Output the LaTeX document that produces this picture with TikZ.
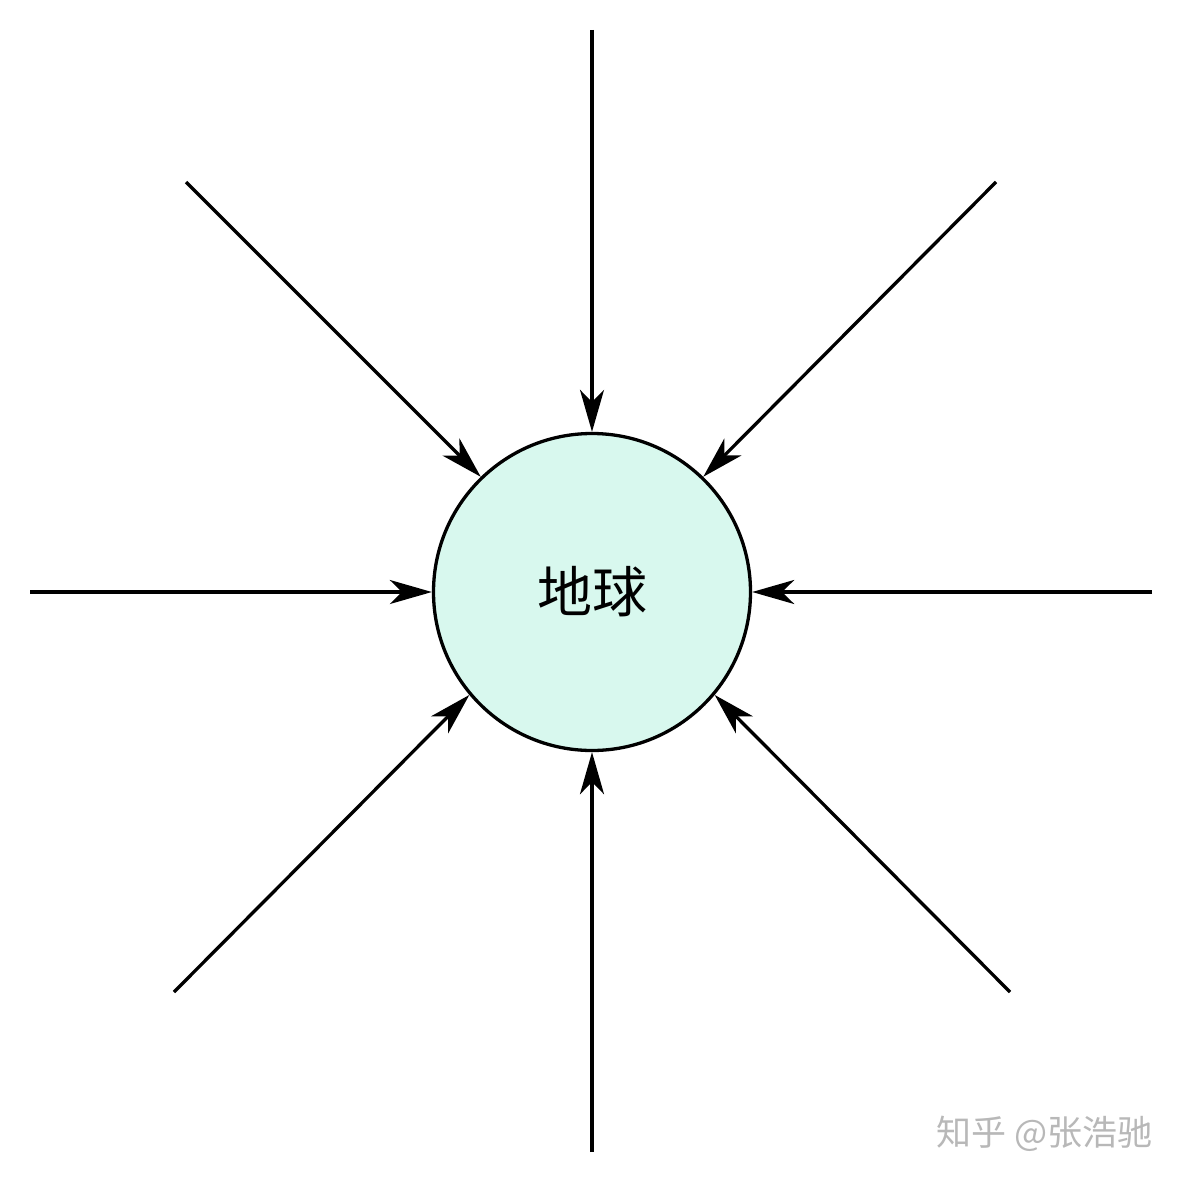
\documentclass[tikz,border=0pt]{standalone}
\usepackage{fontspec}
\newfontfamily\cjk{Noto Sans CJK SC}
\usetikzlibrary{arrows.meta}
\definecolor{earthfill}{HTML}{D8F8EE}
\definecolor{wmgray}{HTML}{B8B8B8}
\tikzset{
  ray/.style={line width=3.3pt, -{Stealth[length=42pt,width=24pt,inset=12pt]}},
  earthnode/.style={circle, draw=black, line width=3.3pt, fill=earthfill, minimum size=317pt, inner sep=0pt, font=\cjk\fontsize{55}{60}\selectfont},
  wm/.style={font=\cjk\fontsize{35}{40}\selectfont, text=wmgray, inner sep=0pt, anchor=east}
}
\begin{document}
\begin{tikzpicture}[x=1pt,y=-1pt]
\useasboundingbox (0,0) rectangle (1182,1182);
\node[earthnode] (earth) at (592,592) {地球};
\coordinate (n) at (592,30);
\coordinate (s) at (592,1152);
\coordinate (w) at (30,592);
\coordinate (e) at (1152,592);
\coordinate (nw) at (186,182);
\coordinate (ne) at (996,182);
\coordinate (sw) at (174,992);
\coordinate (se) at (1010,992);
\draw[ray] (n) -- (earth.north);
\draw[ray] (s) -- (earth.south);
\draw[ray] (w) -- (earth.west);
\draw[ray] (e) -- (earth.east);
\draw[ray] (nw) -- (earth.134);
\draw[ray] (ne) -- (earth.46);
\draw[ray] (sw) -- (earth.220);
\draw[ray] (se) -- (earth.320);
\node[wm] (mark) at (1153,1134) {知乎 @张浩驰};
\end{tikzpicture}
\end{document}
